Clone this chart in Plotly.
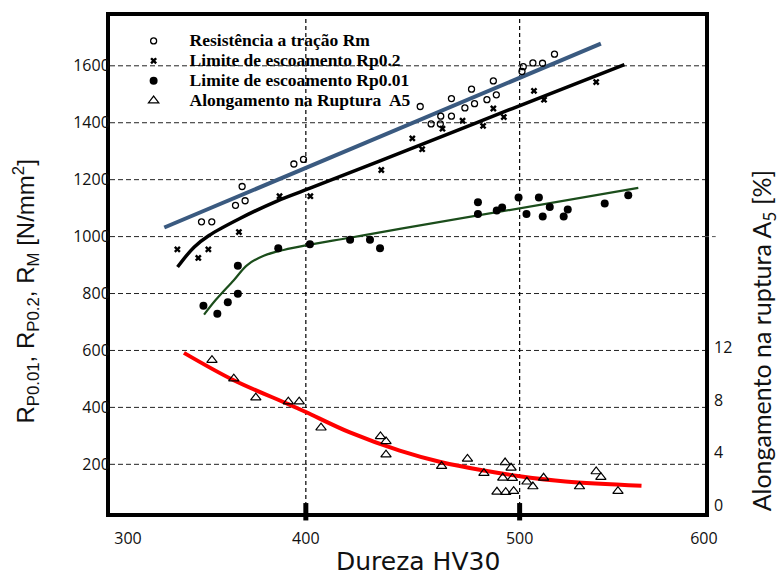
import plotly.graph_objects as go

# ---------------- data ----------------
rm_hv = [351.2, 356.0, 367.1, 370.2, 371.6, 394.4, 398.9, 453.5, 458.6, 462.9, 463.1, 468.1,
         468.1, 474.4, 477.5, 478.9, 484.7, 487.7, 489.1, 501.1, 501.7, 506.2, 510.7, 516.3]
rm_val = [1052, 1052, 1110, 1176, 1126, 1255, 1271, 1457, 1396, 1396, 1423, 1423,
          1485, 1452, 1518, 1467, 1481, 1547, 1498, 1580, 1597, 1610, 1609, 1641]

rp02_hv = [339.9, 349.7, 354.4, 368.7, 387.7, 402.1, 435.3, 449.8, 454.4, 463.9, 473.3,
           482.9, 487.7, 492.6, 506.7, 511.4, 535.8]
rp02_val = [955, 925, 955, 1016, 1142, 1142, 1234, 1345, 1307, 1379, 1407,
            1389, 1450, 1420, 1512, 1481, 1543]

rp001_hv = [352.1, 358.6, 363.5, 368.2, 368.2, 387.1, 401.9, 420.7, 430.0, 434.7, 480.5, 480.5,
            489.3, 491.8, 499.5, 503.2, 509.0, 510.8, 514.1, 520.6, 522.5, 539.8, 550.8]
rp001_val = [757, 729, 769, 799, 898, 959, 973, 989, 989, 959, 1121, 1079,
             1092, 1102, 1137, 1079, 1137, 1071, 1104, 1071, 1095, 1116, 1145]

a5_hv = [356.1, 366.3, 376.6, 391.8, 396.9, 407.1, 434.9, 437.5, 437.5, 463.5, 475.6, 483.3, 493.2,
         496.0, 492.1, 496.6, 489.4, 493.5, 497.2, 503.4, 506.2, 511.2, 528.0, 535.8, 538.0, 546.0]
a5_pct = [11.02, 9.61, 8.17, 7.87, 7.87, 5.89, 5.23, 4.85, 3.85, 2.97, 3.52, 2.44, 3.25,
          2.85, 2.09, 2.06, 1.03, 1.00, 1.08, 1.79, 1.43, 2.09, 1.43, 2.57, 2.14, 1.08]

# fitted curves
rm_fit_hv = [333.8, 538.0]
rm_fit_val = [1032, 1678]
rp02_fit_hv = [340.0, 347.7, 354.7, 368.7, 386.5, 402.0, 443.9, 496.6, 549.0]
rp02_fit_val = [893, 963, 1004, 1062, 1125, 1170, 1293, 1450, 1604]
rp001_fit_hv = [352.4, 357.8, 366.3, 372.6, 380.3, 389.6, 400.5, 420.6, 443.9, 555.5]
rp001_fit_val = [726, 777, 847, 900, 933, 953, 970, 996, 1027, 1171]
a5_fit_hv = [343.0, 366.3, 391.8, 400.0, 420.6, 443.9, 463.5, 483.3, 500.0, 521.4, 557.0]
a5_fit_pct = [11.57, 9.49, 7.68, 7.08, 5.53, 4.15, 3.27, 2.64, 2.21, 1.81, 1.49]

# tick labels
x_tick_vals = [316.8, 400, 500, 586.2]
x_tick_text = ["300", "400", "500", "600"]
y_tick_vals = [200, 400, 600, 800, 1000, 1200, 1400, 1600]
y2_tick_vals = [0, 4, 8, 12]

legend_names = ["Resistência a tração Rm", "Limite de escoamento Rp0.2",
                "Limite de escoamento Rp0.01", "Alongamento na Ruptura  A5"]


def legend_label(s):
    return '<span style="font-size:17.5px"><b>' + s + '</b></span>'


# ---------------- figure ----------------
fig = go.Figure()

# fit lines (no legend)
fig.add_trace(go.Scatter(x=rm_fit_hv, y=rm_fit_val, mode="lines",
                         line=dict(color="#3A5A80", width=4), showlegend=False, hoverinfo="skip"))
fig.add_trace(go.Scatter(x=rp02_fit_hv, y=rp02_fit_val, mode="lines",
                         line=dict(color="#000000", width=3.5, shape="spline", smoothing=1.0),
                         showlegend=False, hoverinfo="skip"))
fig.add_trace(go.Scatter(x=rp001_fit_hv, y=rp001_fit_val, mode="lines",
                         line=dict(color="#1B4D1B", width=2.2, shape="spline", smoothing=1.0),
                         showlegend=False, hoverinfo="skip"))
fig.add_trace(go.Scatter(x=a5_fit_hv, y=a5_fit_pct, mode="lines", yaxis="y2",
                         line=dict(color="#FF0000", width=4, shape="spline", smoothing=1.0),
                         showlegend=False, hoverinfo="skip"))

# data markers
fig.add_trace(go.Scatter(x=rm_hv, y=rm_val, mode="markers", name=legend_label(legend_names[0]),
                         marker=dict(symbol="circle-open", size=6, color="#000",
                                     line=dict(width=1.3, color="#000"))))
fig.add_trace(go.Scatter(x=rp02_hv, y=rp02_val, mode="markers", name=legend_label(legend_names[1]),
                         marker=dict(symbol="x", size=6, color="#000", line=dict(width=0))))
fig.add_trace(go.Scatter(x=rp001_hv, y=rp001_val, mode="markers", name=legend_label(legend_names[2]),
                         marker=dict(symbol="circle", size=8, color="#000")))
fig.add_trace(go.Scatter(x=a5_hv, y=a5_pct, mode="markers", name=legend_label(legend_names[3]),
                         yaxis="y2",
                         marker=dict(symbol="triangle-up-open", size=9, color="#000",
                                     line=dict(width=1.2, color="#000"))))

tick_font = dict(family="Open Sans", size=16, color="#111")

fig.update_layout(
    width=782, height=573,
    margin=dict(l=110, r=76.5, t=13, b=60.3),
    paper_bgcolor="white", plot_bgcolor="white",
    showlegend=True,
    legend=dict(x=0.0128, y=0.98, xanchor="left", yanchor="top",
                bgcolor="rgba(0,0,0,0)", borderwidth=0, itemwidth=62,
                font=dict(family="Liberation Serif", size=13, color="#000"),
                tracegroupgap=0),
    xaxis=dict(range=[308.4, 586.7], tickvals=x_tick_vals, ticktext=x_tick_text,
               showgrid=False, zeroline=False, ticks="",
               showline=True, linewidth=4, linecolor="#000", mirror=True,
               tickfont=tick_font, ticklabelstandoff=8),
    yaxis=dict(range=[29, 1775], tickvals=y_tick_vals,
               showgrid=False, zeroline=False, ticks="",
               showline=True, linewidth=4, linecolor="#000", mirror=True,
               tickfont=tick_font, ticklabelstandoff=-7),
    yaxis2=dict(range=[-0.58, 37.13], tickvals=y2_tick_vals, overlaying="y", side="right",
                showgrid=False, zeroline=False, showline=False, ticks="",
                tickfont=tick_font, ticklabelstandoff=8),
)

# horizontal dashed gridlines
for yv in y_tick_vals:
    fig.add_shape(type="line", xref="paper", yref="y", x0=0, x1=1, y0=yv, y1=yv,
                  line=dict(color="#222", width=1, dash="5px,3px"), layer="below")

# vertical dashed gridlines at 400 and 500, and thick bottom tick marks
for xv in [400, 500]:
    fig.add_shape(type="line", xref="x", yref="paper", x0=xv, x1=xv, y0=0, y1=1,
                  line=dict(color="#000", width=1.2, dash="4px,3px"), layer="below")
    fig.add_shape(type="line", xref="x", yref="paper", x0=xv, x1=xv, y0=-0.015, y1=0.02,
                  line=dict(color="#000", width=5))

# the 1000 gridline sticks out past the right border
fig.add_shape(type="line", xref="paper", yref="y", x0=1.0, x1=1.018, y0=1000, y1=1000,
              line=dict(color="#555", width=1, dash="4px,3px"))

# axis titles
fig.add_annotation(text="Dureza HV30", xref="paper", yref="paper", x=0.517, y=-0.097,
                   xanchor="center", yanchor="middle", showarrow=False, borderpad=0,
                   font=dict(family="DejaVu Sans", size=25, color="#111"))
fig.add_annotation(text="R<sub>P0.01</sub>, R<sub>P0.2</sub>, R<sub>M</sub> [N/mm<sup>2</sup>]",
                   xref="paper", yref="paper", x=-0.141, y=0.4457, textangle=-90,
                   xanchor="center", yanchor="middle", showarrow=False,
                   font=dict(family="Liberation Sans", size=24, color="#111"))
fig.add_annotation(text="Alongamento na ruptura A<sub>5</sub> [%]",
                   xref="paper", yref="paper", x=1.0977, y=0.3476, textangle=-90,
                   xanchor="center", yanchor="middle", showarrow=False,
                   font=dict(family="Lato", size=25, color="#111"))

fig.write_html("out.html", config={"displayModeBar": False},
               post_script="document.body.style.margin='0px';")
